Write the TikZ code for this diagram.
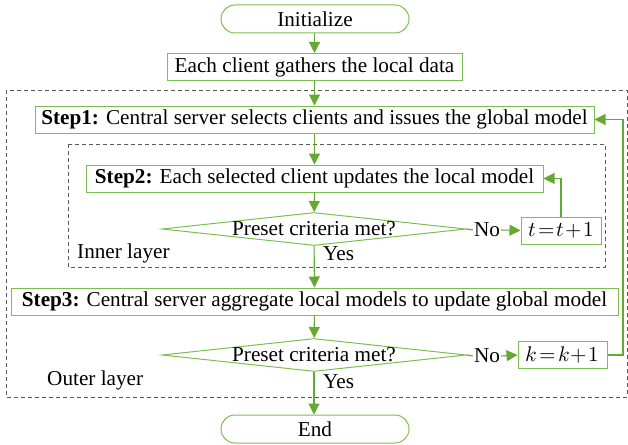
\documentclass[tikz,border=0pt]{standalone}
\usepackage{fontspec}
\usepackage{unicode-math}
\setmainfont{Liberation Serif}
\setmathfont{Latin Modern Math}
\usetikzlibrary{shapes.geometric,arrows.meta,calc}
\definecolor{boxgreen}{RGB}{125,190,80}
\definecolor{linegreen}{RGB}{100,170,50}
\definecolor{dashgray}{RGB}{90,90,90}
\begin{document}
\begin{tikzpicture}[x=1pt,y=-1pt,
  every node/.style={font=\fontsize{21.2}{24}\selectfont},
  procbox/.style={draw=boxgreen,line width=1pt,rectangle,inner sep=0pt,minimum height=27pt},
  termbox/.style={draw=boxgreen,line width=1pt,rectangle,rounded corners=14pt,minimum width=188pt,minimum height=28pt,inner sep=0pt},
  dia/.style={draw=boxgreen,line width=1pt,diamond,minimum width=304pt,minimum height=33pt,inner sep=0pt},
  conn/.style={draw=linegreen,line width=1.1pt,-{Triangle[length=11pt,width=11pt]}},
  plainconn/.style={draw=linegreen,line width=1.1pt},
  layerbox/.style={draw=dashgray,line width=0.8pt,dash pattern=on 4pt off 3pt},
  lbl/.style={inner sep=1pt}]
\useasboundingbox (0,0) rectangle (628,444);
% dashed layers
\draw[layerbox] (6,90) rectangle (627,397);
\draw[layerbox] (68,144) rectangle (605,267);
% nodes
\node[termbox] (init) at (315,19) {Initialize};
\node[procbox,minimum width=295pt] (gather) at (314.5,67) {Each client gathers the local data};
\node[procbox,minimum width=559pt] (s1) at (314.5,119.5) {\textbf{Step1:} Central server selects clients and issues the global model};
\node[procbox,minimum width=457pt] (s2) at (314.5,178.5) {\textbf{Step2:} Each selected client updates the local model};
\node[dia] (d1) at (314,229) {};
\node[inner sep=0pt] (d1t) at (314,229) {Preset criteria met?};
\node[lbl] (no1) at (487,230) {No};
\node[procbox,minimum width=80pt] (tb) at (561,230.5) {$t\!=\!t\!+\!1$};
\node[lbl,anchor=west] (inner) at (76,253) {Inner layer};
\node[lbl,anchor=west] (yes1) at (322,254) {Yes};
\node[procbox,minimum width=607pt] (s3) at (314.5,301.5) {\textbf{Step3:} Central server aggregate local models to update global model};
\node[dia] (d2) at (314,355) {};
\node[inner sep=0pt] (d2t) at (314,355) {Preset criteria met?};
\node[lbl] (no2) at (487,356) {No};
\node[procbox,minimum width=89pt] (kb) at (562.5,355) {$k\!=\!k\!+\!1$};
\node[lbl,anchor=west] (outer) at (46,380) {Outer layer};
\node[lbl,anchor=west] (yes2) at (322,382) {Yes};
\node[termbox] (endn) at (315,429) {End};
\coordinate (fb) at (623,355);
% connectors
\draw[conn] (init.south -| gather.north) -- (gather.north);
\draw[conn] (gather) -- (s1);
\draw[conn] (s1) -- (s2);
\draw[conn] (s2) -- (d1);
\draw[conn] (d1) -- (s3);
\draw[conn] (s3) -- (d2);
\draw[conn] (d2) -- (endn.north -| d2.south);
\draw[plainconn] (d1.east) -- (no1.west);
\draw[conn] (no1.east) -- (tb.west);
\draw[conn] (tb.north) |- (s2.east);
\draw[plainconn] (d2.east) -- (no2.west);
\draw[conn] (no2.east) -- (kb.west);
\draw[conn] (kb.east) -- (fb) |- (s1.east);
\end{tikzpicture}
\end{document}
